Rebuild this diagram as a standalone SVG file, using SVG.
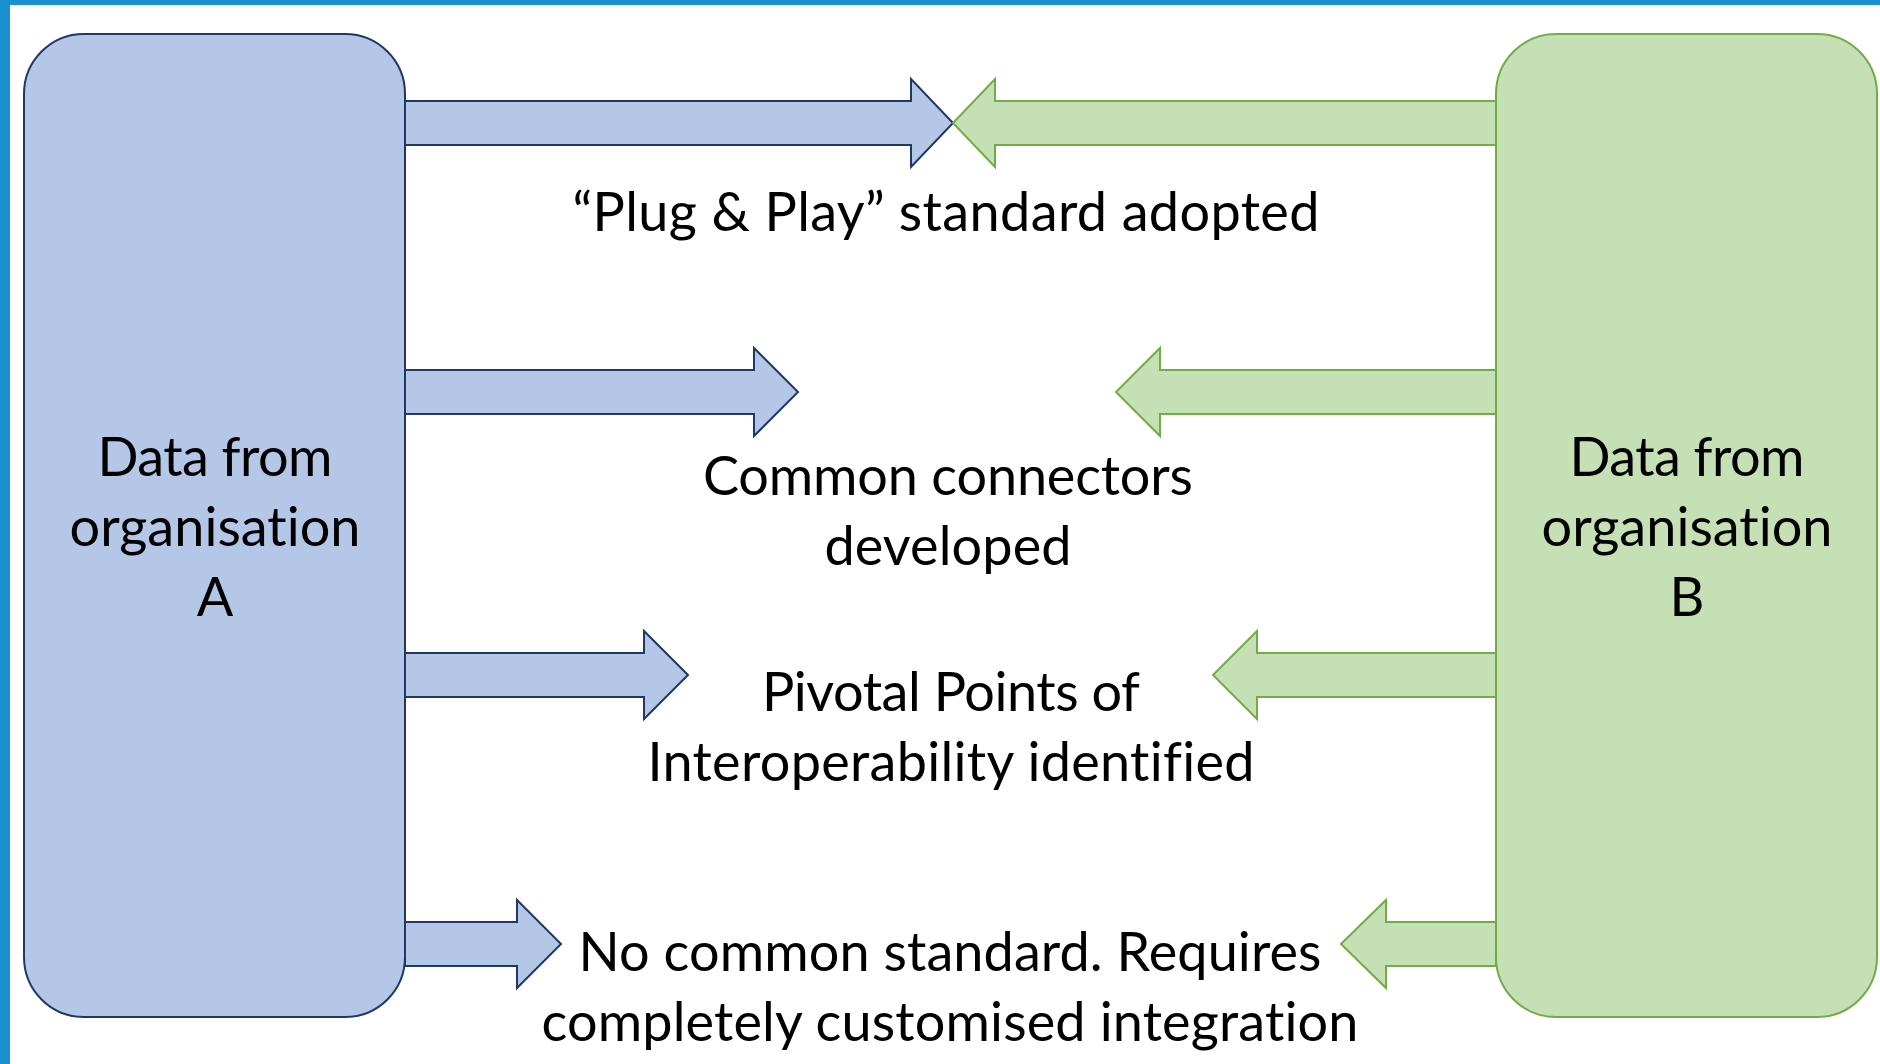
<svg xmlns="http://www.w3.org/2000/svg" width="1880" height="1064" viewBox="0 0 1880 1064">
<style>
.frame{fill:#1A90D0}
.boxA{fill:#B4C7E7;stroke:#203864;stroke-width:2}
.boxB{fill:#C5E0B4;stroke:#70AD47;stroke-width:2}
.arrA{fill:#B4C7E7;stroke:#203864;stroke-width:2;stroke-linejoin:miter}
.arrB{fill:#C5E0B4;stroke:#70AD47;stroke-width:2;stroke-linejoin:miter}
text{font-family:Lato,"Liberation Sans",sans-serif;font-size:54px;fill:#000;text-anchor:middle;font-variant-ligatures:none}
</style>
<rect class="frame" x="0" y="0" width="1880" height="5"/>
<rect class="frame" x="0" y="0" width="10" height="1064"/>
<g id="connectors">
<polygon class="arrA" points="405,101 911,101 911,79 953,123 911,167 911,145 405,145"/>
<polygon class="arrB" points="1496,101 995,101 995,79 953,123 995,167 995,145 1496,145"/>
<polygon class="arrA" points="405,370 754,370 754,348 798,392 754,436 754,414 405,414"/>
<polygon class="arrB" points="1496,370 1160,370 1160,348 1116,392 1160,436 1160,414 1496,414"/>
<polygon class="arrA" points="405,653 644,653 644,631 688,675 644,719 644,697 405,697"/>
<polygon class="arrB" points="1496,653 1257,653 1257,631 1213,675 1257,719 1257,697 1496,697"/>
<polygon class="arrA" points="405,922 517,922 517,900 561,944 517,988 517,966 405,966"/>
<polygon class="arrB" points="1496,922 1386,922 1386,900 1341,944 1386,988 1386,966 1496,966"/>
</g>
<g id="nodeA">
<rect class="boxA" x="24" y="34" width="381" height="983" rx="60" ry="60"/>
<text x="215" y="476" textLength="235">Data from</text>
<text x="215" y="546" textLength="291">organisation</text>
<text x="215" y="616">A</text>
</g>
<g id="nodeB">
<rect class="boxB" x="1496" y="34" width="381" height="983" rx="60" ry="60"/>
<text x="1687" y="476" textLength="235">Data from</text>
<text x="1687" y="546" textLength="291">organisation</text>
<text x="1687" y="616">B</text>
</g>
<g id="label1">
<text x="946" y="231" textLength="747">“Plug &amp; Play” standard adopted</text>
</g>
<g id="label2">
<text x="948" y="495" textLength="490">Common connectors</text>
<text x="948" y="565" textLength="247">developed</text>
</g>
<g id="label3">
<text x="951" y="711" textLength="378">Pivotal Points of</text>
<text x="951" y="781" textLength="607">Interoperability identified</text>
</g>
<g id="label4">
<text x="950" y="971" textLength="743">No common standard. Requires</text>
<text x="950" y="1041" textLength="817">completely customised integration</text>
</g>
</svg>
